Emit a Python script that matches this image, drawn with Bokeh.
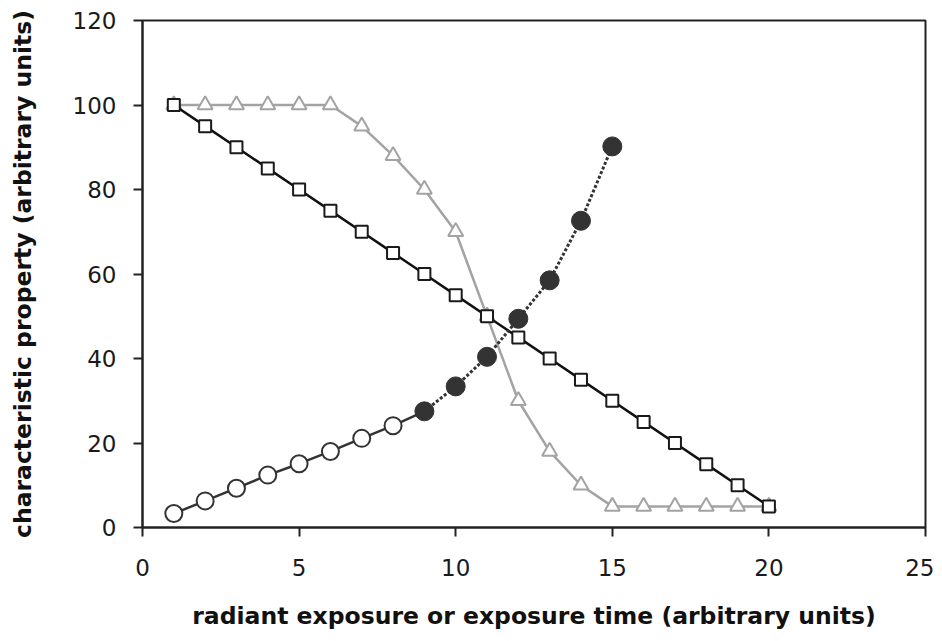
from bokeh.plotting import figure
from bokeh.models import Range1d, FixedTicker
from bokeh.embed import file_html
from bokeh.resources import INLINE

# ---- data ----
circ_open_x = [1, 2, 3, 4, 5, 6, 7, 8]
circ_open_y = [3.3, 6.3, 9.3, 12.4, 15.1, 18.0, 21.1, 24.1]
circ_fill_x = [9, 10, 11, 12, 13, 14, 15]
circ_fill_y = [27.5, 33.4, 40.4, 49.4, 58.5, 72.6, 90.2]
square_x = list(range(1, 21))
square_y = [100, 95, 90, 85, 80, 75, 70, 65, 60, 55, 50, 45, 40, 35, 30, 25, 20, 15, 10, 5]
tri_x = list(range(1, 21))
tri_y = [100, 100, 100, 100, 100, 100, 95, 88, 80, 70, 50, 30, 18, 10, 5, 5, 5, 5, 5, 5]
x_ticks = [0, 5, 10, 15, 20, 25]
y_ticks = [0, 20, 40, 60, 80, 100, 120]
x_label = "radiant exposure or exposure time (arbitrary units)"
y_label = "characteristic property (arbitrary units)"

DARK = "#333333"
GRAY = "#a3a3a3"

p = figure(width=934, height=637, output_backend="svg", toolbar_location=None,
           x_range=Range1d(0, 25), y_range=Range1d(0, 120),
           min_border_left=142, min_border_right=9, min_border_top=20, min_border_bottom=110)
p.background_fill_color = "white"
p.border_fill_color = "white"
p.outline_line_color = "#222222"
p.outline_line_width = 2
p.xgrid.visible = False
p.ygrid.visible = False

for ax in (p.xaxis[0], p.yaxis[0]):
    ax.axis_line_color = "#222222"
    ax.axis_line_width = 2
    ax.major_tick_line_color = "#222222"
    ax.major_tick_line_width = 2
    ax.major_tick_out = 9
    ax.major_tick_in = 0
    ax.minor_tick_line_color = None
    ax.major_label_text_font = "DejaVu Sans"
    ax.major_label_text_font_size = "23px"
    ax.major_label_text_color = "#1a1a1a"
    ax.axis_label_text_font = "DejaVu Sans"
    ax.axis_label_text_font_style = "bold"
    ax.axis_label_text_font_size = "23.5px"
    ax.axis_label_text_color = "#111111"

p.xaxis.ticker = FixedTicker(ticks=x_ticks)
p.yaxis.ticker = FixedTicker(ticks=y_ticks)
p.xaxis.axis_label = x_label
p.yaxis.axis_label = y_label
p.xaxis.major_label_standoff = 22
p.xaxis.axis_label_standoff = 23
p.yaxis.major_label_standoff = 17
p.yaxis.axis_label_standoff = 33

# triangles (gray)
p.line(tri_x, tri_y, line_color=GRAY, line_width=2.5)
p.scatter(tri_x, tri_y, marker="triangle", size=15, fill_color="white",
          line_color=GRAY, line_width=2)

# squares (black)
p.line(square_x, square_y, line_color="#111111", line_width=2.5)
p.scatter(square_x, square_y, marker="square", size=12, fill_color="white",
          line_color="#1a1a1a", line_width=2)

# circles
p.line(circ_open_x + circ_fill_x[:1], circ_open_y + circ_fill_y[:1],
       line_color=DARK, line_width=2.5)
p.line(circ_fill_x, circ_fill_y, line_color=DARK, line_width=3, line_dash="3 2")
p.scatter(circ_open_x, circ_open_y, marker="circle", size=17, fill_color="white",
          line_color=DARK, line_width=2)
p.scatter(circ_fill_x, circ_fill_y, marker="circle", size=19, fill_color=DARK,
          line_color=DARK, line_width=1)

open("out.html", "w").write(file_html(p, INLINE))
